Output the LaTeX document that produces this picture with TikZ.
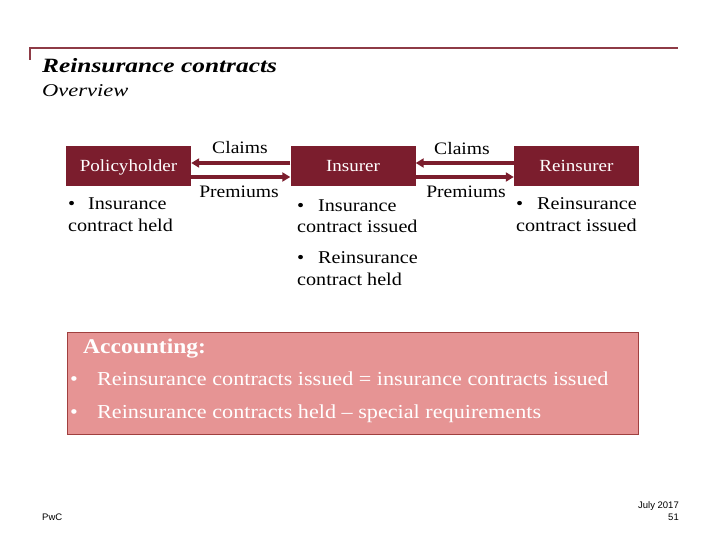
\documentclass[tikz,border=0pt]{standalone}
\usepackage{fontspec}
\setmainfont[FakeStretch=1.12]{Liberation Serif}
\newfontfamily\titlefont[FakeStretch=1.25]{Liberation Serif}
\newfontfamily\footfont{Liberation Sans}
\usetikzlibrary{arrows.meta}
\definecolor{pwcred}{HTML}{7B1D2D}
\definecolor{rulered}{HTML}{8E3B46}
\definecolor{acctfill}{HTML}{E69494}
\definecolor{acctline}{HTML}{A0403F}
\begin{document}
\begin{tikzpicture}[x=1pt,y=-1pt,
  entity/.style={fill=pwcred,text=white,minimum width=125pt,minimum height=40pt,inner sep=0pt,
    text height=12pt,text depth=0pt,font=\fontsize{17}{20}\selectfont},
  flow/.style={draw=pwcred,line width=3.5pt,-{Triangle[length=8pt,width=9pt]}},
  lbl/.style={inner sep=0pt,anchor=base,font=\fontsize{17.5}{20}\selectfont},
  note/.style={inner sep=0pt,anchor=base west,font=\fontsize{18}{21}\selectfont},
  acctxt/.style={inner sep=0pt,anchor=base west,text=white,font=\fontsize{19.8}{23}\selectfont},
  foot/.style={inner sep=0pt,font=\footfont\fontsize{9.5}{11}\selectfont}]
\useasboundingbox (0,0) rectangle (720,540);
% title rule
\coordinate (r0) at (30,60);
\coordinate (r1) at (30,48);
\coordinate (r2) at (678,48);
\draw[rulered,line width=2pt] (r0) -- (r1) -- (r2);
\node[inner sep=0pt,anchor=base west,font=\titlefont\bfseries\itshape\fontsize{20.3}{24}\selectfont] (title) at (42,73) {Reinsurance contracts};
\node[inner sep=0pt,anchor=base west,font=\titlefont\itshape\fontsize{18}{22}\selectfont] (sub) at (42,97) {Overview};
% entities
\node[entity] (ph) at (128.5,166) {Policyholder};
\node[entity] (ins) at (353,166) {Insurer};
\node[entity] (re) at (576.5,166) {Reinsurer};
% flows
\draw[flow] ([yshift=3pt]ins.west) -- ([yshift=3pt]ph.east);
\draw[flow] ([yshift=-11pt]ph.east) -- ([yshift=-11pt]ins.west);
\draw[flow] ([yshift=3pt]re.west) -- ([yshift=3pt]ins.east);
\draw[flow] ([yshift=-11pt]ins.east) -- ([yshift=-11pt]re.west);
\node[lbl] (c1) at (240,154) {Claims};
\node[lbl] (p1) at (239,198) {Premiums};
\node[lbl] (c2) at (462,155) {Claims};
\node[lbl] (p2) at (466,198) {Premiums};
% notes
\node[note] (n1a) at (68,210) {\makebox[20pt][l]{\textbullet}Insurance};
\node[note] (n1b) at (68,231.5) {contract held};
\node[note] (n2a) at (297,211.5) {\makebox[21pt][l]{\textbullet}Insurance};
\node[note] (n2b) at (297,233) {contract issued};
\node[note] (n2c) at (297,263) {\makebox[21pt][l]{\textbullet}Reinsurance};
\node[note] (n2d) at (297,285) {contract held};
\node[note] (n3a) at (516,210) {\makebox[21pt][l]{\textbullet}Reinsurance};
\node[note] (n3b) at (516,231) {contract issued};
% accounting box
\node[fill=acctfill,draw=acctline,line width=1pt,minimum width=571pt,minimum height=102pt,inner sep=0pt] (acc) at (352.5,383) {};
\node[acctxt,font=\bfseries\fontsize{21}{24}\selectfont] (acch) at (83,353) {Accounting:};
\node[acctxt] (acc1) at (70,385) {\makebox[27pt][l]{\textbullet}Reinsurance contracts issued = insurance contracts issued};
\node[acctxt] (acc2) at (70,418) {\makebox[27pt][l]{\textbullet}Reinsurance contracts held -- special requirements};
% footer
\node[foot,anchor=base west] (pwc) at (42,520) {PwC};
\node[foot,anchor=base east] (date) at (679,508) {July 2017};
\node[foot,anchor=base east] (page) at (679,520) {51};
\end{tikzpicture}
\end{document}
